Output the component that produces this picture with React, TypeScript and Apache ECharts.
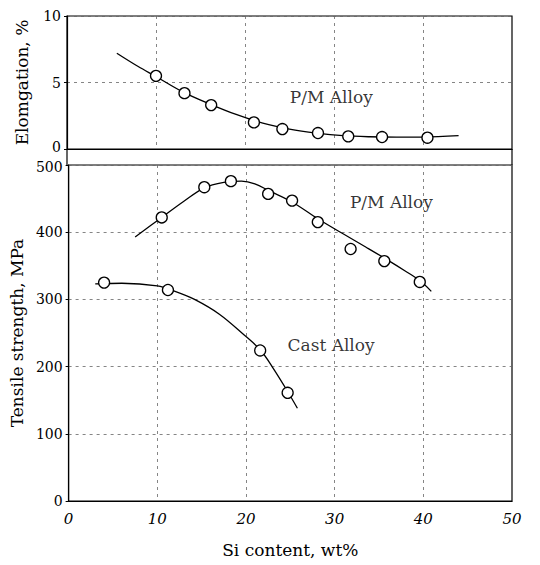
import React, { useEffect, useRef } from "react";
import * as echarts from "echarts";

// Elongation (P/M alloy) measured points
const elongX = [10, 13.2, 16.2, 21, 24.2, 28.2, 31.6, 35.4, 40.5];
const elongY = [5.5, 4.2, 3.3, 2.0, 1.5, 1.2, 0.95, 0.9, 0.85];
// Elongation fitted curve
const elongCurveX = [5.6, 8, 10, 13, 16, 19, 22, 25, 28, 31, 34, 37, 40, 44];
const elongCurveY = [7.2, 6.2, 5.45, 4.3, 3.4, 2.6, 1.95, 1.5, 1.2, 1.0, 0.92, 0.9, 0.9, 1.0];

// Tensile strength, P/M alloy
const pmX = [10.5, 15.3, 18.3, 22.5, 25.2, 28.1, 31.8, 35.6, 39.6];
const pmY = [422, 467, 476, 457, 447, 415, 375, 357, 326];
const pmCurveX = [7.5, 10.5, 13, 15.3, 17.5, 19.5, 21, 22.7, 25.2, 28.1, 30.9, 33.5, 35.8, 38, 39.6, 40.9];
const pmCurveY = [393, 422, 446, 466, 474, 476, 472, 461, 445, 420, 398, 378, 360, 342, 328, 312];

// Tensile strength, cast alloy
const castX = [4.0, 11.2, 21.6, 24.7];
const castY = [325, 314, 224, 161];
const castCurveX = [3.0, 6, 10, 12, 14.2, 17, 19.8, 21.6, 23, 24.7, 25.8];
const castCurveY = [323, 324, 320, 312, 300, 278, 247, 225, 199, 163, 138];

const xTicks = [0, 10, 20, 30, 40, 50];
const elongTicks = [0, 5, 10];
const strengthTicks = [0, 100, 200, 300, 400, 500];

const labels = [
  { text: "P/M Alloy", grid: 0, x: 29.7, y: 3.9 },
  { text: "P/M Alloy", grid: 1, x: 36.4, y: 445 },
  { text: "Cast Alloy", grid: 1, x: 29.6, y: 232 },
];

const FONT = "DejaVu Serif";
const L = 67;
const R = 28;
const TOP1 = 16;
const H1 = 133;
const TOP2 = 165;
const BOTTOM2 = 64;

const zip = (a: number[], b: number[]) => a.map((v, i) => [v, b[i]]);

export default function App() {
  const ref = useRef<HTMLDivElement>(null);
  useEffect(() => {
    if (!ref.current) return;
    const chart = echarts.init(ref.current, undefined, { renderer: "svg" });
    const split = { show: true, lineStyle: { color: "#666", type: [3, 4] as any, width: 0.8 } };
    const axisLine = { show: true, lineStyle: { color: "#000", width: 1.2 } };
    const tick = { show: true, inside: false, length: 3, lineStyle: { color: "#000", width: 1 } };
    const lineCommon = {
      type: "line" as const,
      smooth: 0.35,
      symbol: "none",
      lineStyle: { color: "#000", width: 1.3 },
      z: 3,
    };
    const scatterCommon = {
      type: "scatter" as const,
      symbol: "circle",
      symbolSize: 11,
      itemStyle: { color: "#fff", borderColor: "#000", borderWidth: 1.3, opacity: 1 },
      z: 5,
    };
    const option: any = {
      animation: false,
      backgroundColor: "#fff",
      textStyle: { fontFamily: FONT },
      grid: [
        { left: L, right: R, top: TOP1, height: H1, show: true, borderColor: "#000", borderWidth: 1.2, backgroundColor: "transparent" },
        { left: L, right: R, top: TOP2, bottom: BOTTOM2, show: true, borderColor: "#000", borderWidth: 1.2, backgroundColor: "transparent" },
      ],
      xAxis: [
        {
          gridIndex: 0, type: "value", min: xTicks[0], max: xTicks[xTicks.length - 1], interval: 10,
          axisLine, axisTick: { show: false }, axisLabel: { show: false }, splitLine: split,
        },
        {
          gridIndex: 1, type: "value", min: xTicks[0], max: xTicks[xTicks.length - 1], interval: 10,
          axisLine, axisTick: { show: false },
          axisLabel: { color: "#000", fontSize: 15, fontStyle: "italic", fontFamily: FONT, margin: 10 },
          splitLine: split,
          name: "Si content, wt%", nameLocation: "middle", nameGap: 40,
          nameTextStyle: { color: "#000", fontSize: 17, fontFamily: FONT },
        },
      ],
      yAxis: [
        {
          gridIndex: 0, type: "value", min: elongTicks[0], max: elongTicks[elongTicks.length - 1], interval: 5,
          axisLine, axisTick: tick,
          axisLabel: {
            color: "#000", fontSize: 14, fontFamily: FONT, margin: 6,
            formatter: (v: number) => (v === 0 ? "{lo|0}" : String(v)),
            rich: { lo: { fontSize: 14, fontFamily: FONT, color: "#000", padding: [0, 0, 4, 0] } },
          },
          splitLine: split,
          name: "Elomgation, %", nameLocation: "middle", nameGap: 37,
          nameTextStyle: { color: "#000", fontSize: 17, fontFamily: FONT },
        },
        {
          gridIndex: 1, type: "value", min: strengthTicks[0], max: strengthTicks[strengthTicks.length - 1], interval: 100,
          axisLine, axisTick: tick,
          axisLabel: {
            color: "#000", fontSize: 14, fontFamily: FONT, margin: 6,
            formatter: (v: number) => (v === 500 ? "{hi|500}" : String(v)),
            rich: { hi: { fontSize: 14, fontFamily: FONT, color: "#000", padding: [4, 0, 0, 0] } },
          },
          splitLine: split,
          name: "Tensile strength, MPa", nameLocation: "middle", nameGap: 37,
          nameTextStyle: { color: "#000", fontSize: 17, fontFamily: FONT },
        },
      ],
      series: [
        { ...lineCommon, xAxisIndex: 0, yAxisIndex: 0, data: zip(elongCurveX, elongCurveY) },
        { ...scatterCommon, xAxisIndex: 0, yAxisIndex: 0, data: zip(elongX, elongY) },
        { ...lineCommon, xAxisIndex: 1, yAxisIndex: 1, data: zip(pmCurveX, pmCurveY) },
        { ...scatterCommon, xAxisIndex: 1, yAxisIndex: 1, data: zip(pmX, pmY) },
        { ...lineCommon, xAxisIndex: 1, yAxisIndex: 1, data: zip(castCurveX, castCurveY) },
        { ...scatterCommon, xAxisIndex: 1, yAxisIndex: 1, data: zip(castX, castY) },
        ...labels.map((lb) => ({
          type: "scatter",
          xAxisIndex: lb.grid,
          yAxisIndex: lb.grid,
          symbolSize: 1,
          itemStyle: { color: "transparent" },
          silent: true,
          data: [[lb.x, lb.y]],
          label: {
            show: true,
            position: "inside",
            formatter: lb.text,
            color: "#000",
            fontSize: 17,
            fontFamily: FONT,
          },
          z: 6,
        })),
      ],
      graphic: [
        { type: "line", shape: { x1: L, y1: TOP1 + H1, x2: L, y2: TOP2 }, style: { stroke: "#000", lineWidth: 1.2 } },
        { type: "line", shape: { x1: 540 - R, y1: TOP1 + H1, x2: 540 - R, y2: TOP2 }, style: { stroke: "#000", lineWidth: 1.2 } },
      ],
    };
    chart.setOption(option);
    return () => chart.dispose();
  }, []);
  return (
    <div
      ref={ref}
      style={{ position: "fixed", left: 0, top: 0, width: 540, height: 565, background: "#fff" }}
    />
  );
}
